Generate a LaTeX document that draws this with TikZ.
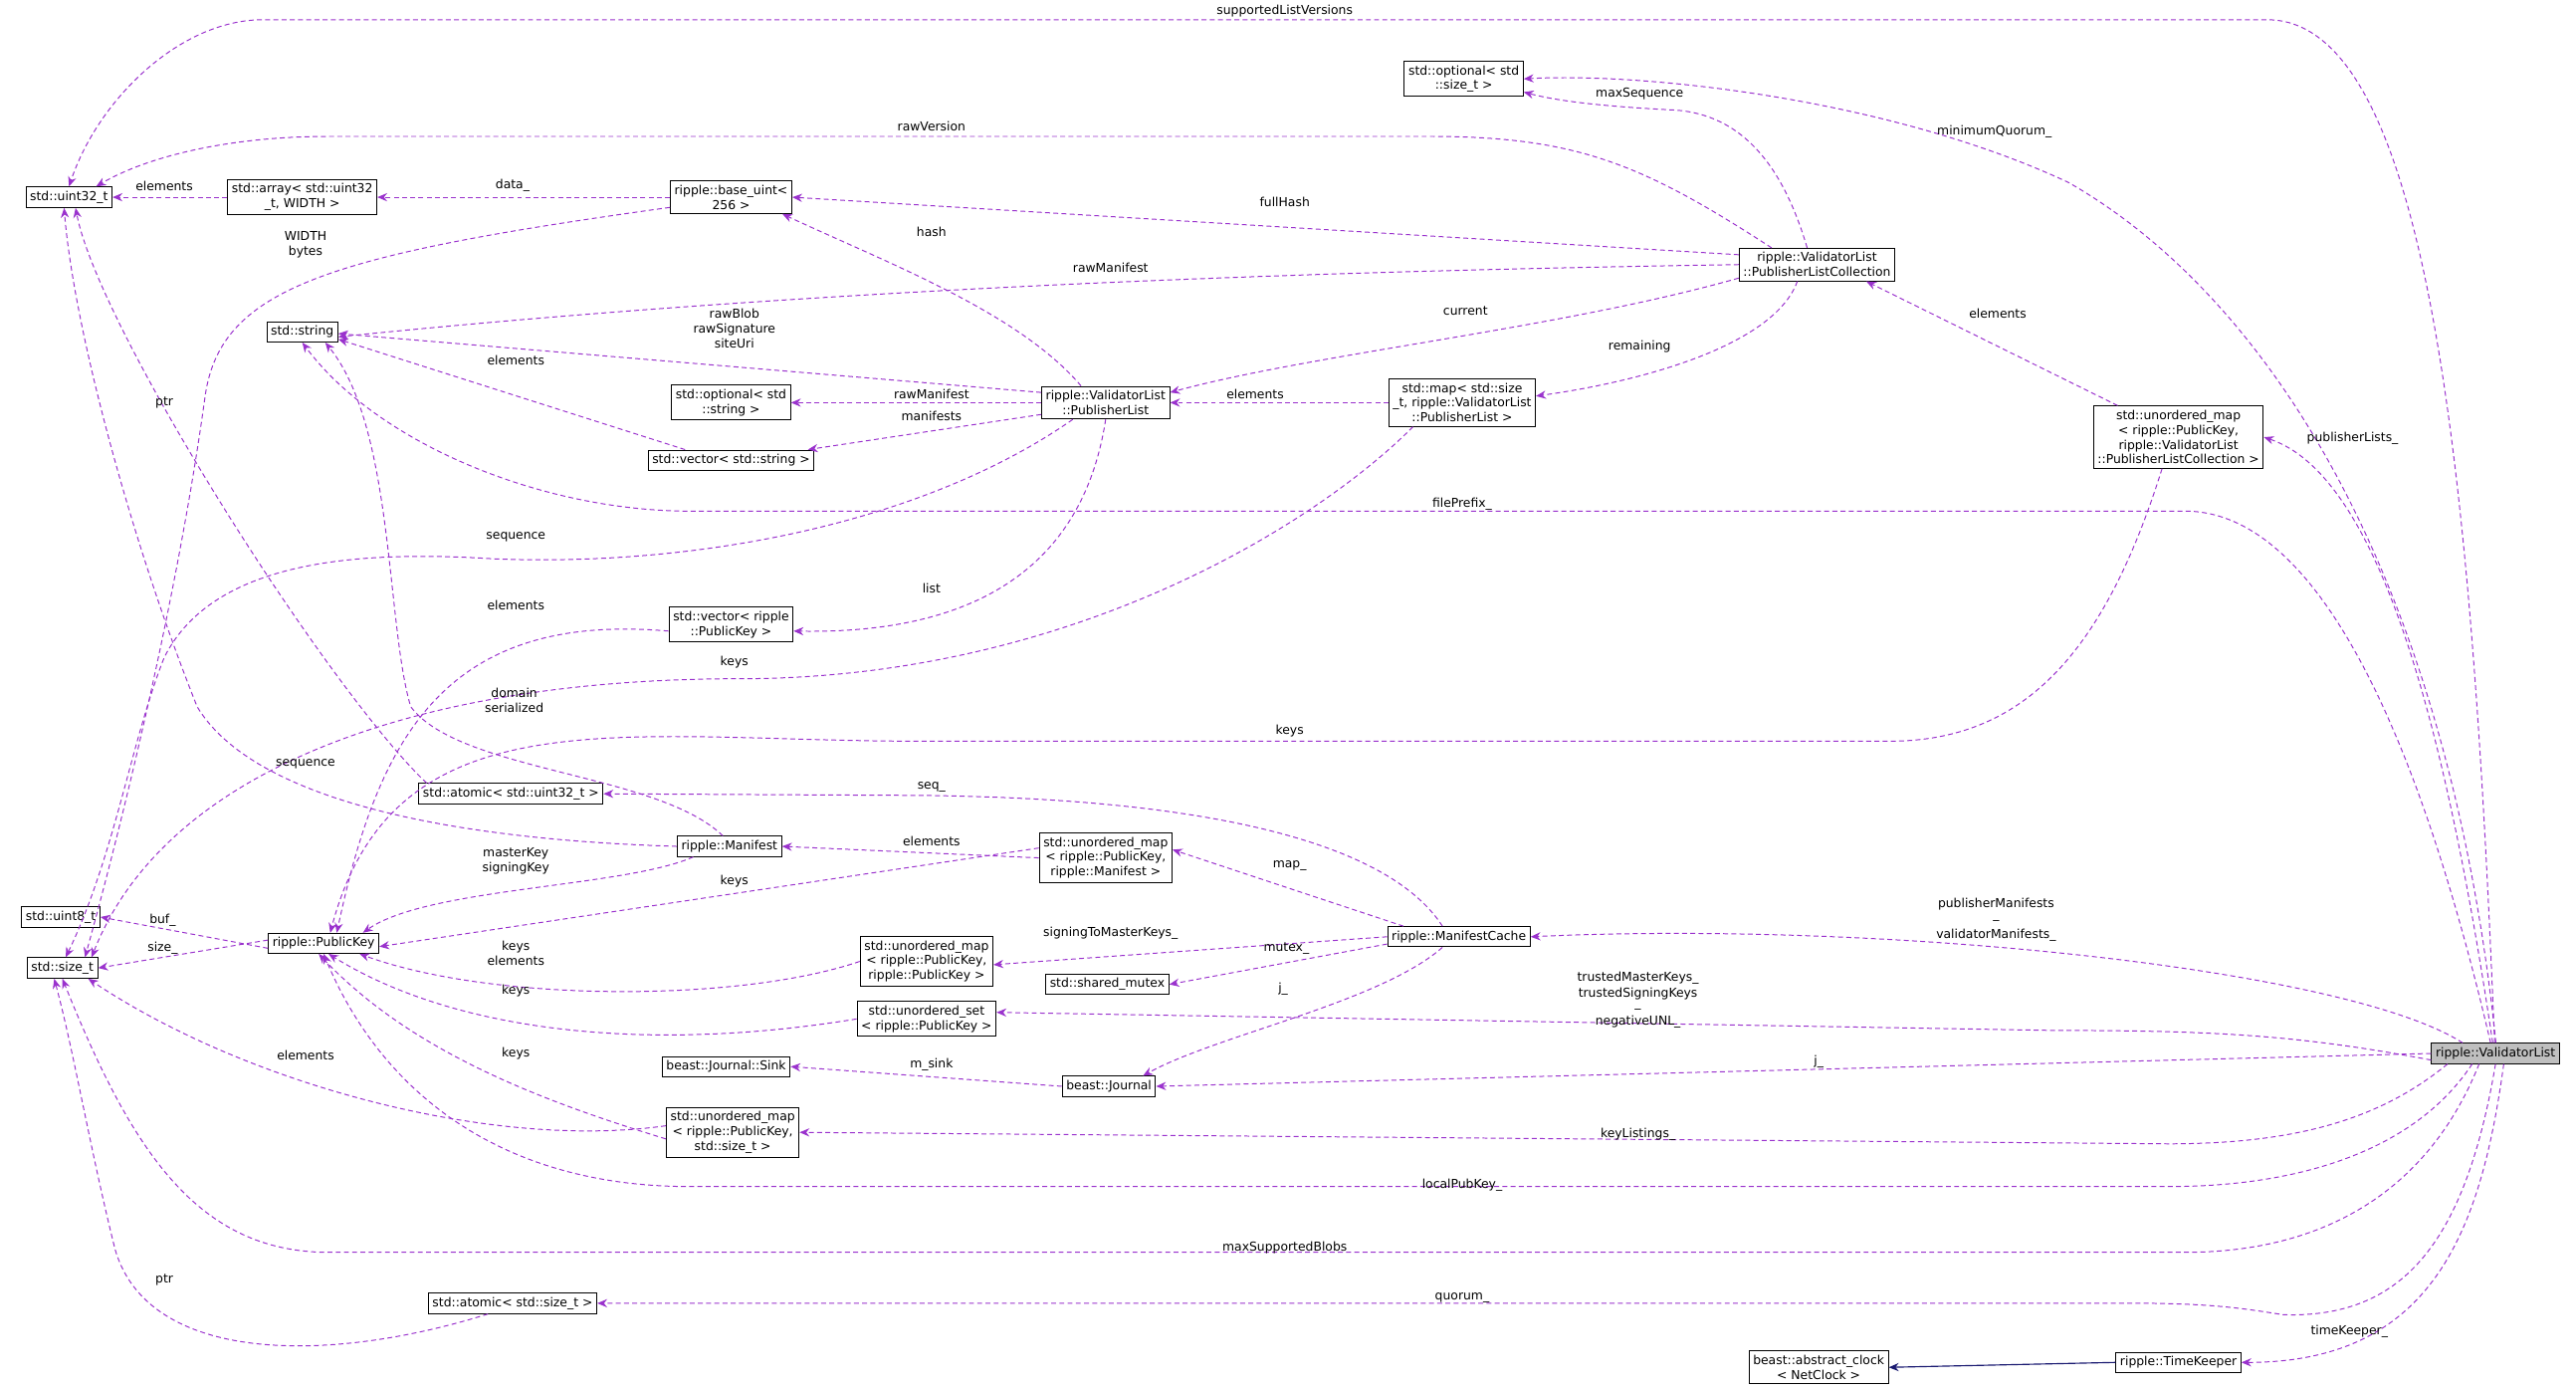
\documentclass[tikz,border=0pt]{standalone}
\usepackage{fontspec}
\setmainfont{DejaVu Sans}
\usetikzlibrary{arrows.meta}
\definecolor{ec}{RGB}{154,50,205}
\definecolor{nv}{RGB}{25,25,112}
\begin{document}
\begin{tikzpicture}[x=1pt,y=-1pt,
  box/.style={draw=black,fill=white,font=\fontsize{7.5}{9}\selectfont,align=center,inner sep=2.5pt,line width=0.6pt},
  lbl/.style={font=\fontsize{7.5}{9}\selectfont,align=center,inner sep=0pt},
  rel/.style={draw=ec,dash pattern=on 3pt off 2pt,line width=0.6pt,-{Stealth[length=6pt,width=5pt,fill=ec]}},
  inh/.style={draw=nv,line width=0.7pt,-{Stealth[length=6pt,width=5pt,fill=nv]}}]
\useasboundingbox (0,0) rectangle (1568,846);
% nodes
\node[box] (uint) at (42,120) {std::uint32\_t};
\node[box] (arr) at (184,120) {std::array< std::uint32\\\_t, WIDTH >};
\node[box] (bu) at (445,120) {ripple::base\_uint<\\256 >};
\node[box] (str) at (184,202) {std::string};
\node[box] (os) at (445,245) {std::optional< std\\::string >};
\node[box] (vs) at (445,280) {std::vector< std::string >};
\node[box] (PL) at (673,245) {ripple::ValidatorList\\::PublisherList};
\node[box] (vpk) at (445,380) {std::vector< ripple\\::PublicKey >};
\node[box] (opt) at (891,48) {std::optional< std\\::size\_t >};
\node[box] (PLC) at (1106,161) {ripple::ValidatorList\\::PublisherListCollection};
\node[box] (map) at (890,245) {std::map< std::size\\\_t, ripple::ValidatorList\\::PublisherList >};
\node[box] (upk) at (1326,266) {std::unordered\_map\\< ripple::PublicKey,\\ ripple::ValidatorList\\::PublisherListCollection >};
\node[box] (au) at (311,483) {std::atomic< std::uint32\_t >};
\node[box] (man) at (444,515) {ripple::Manifest};
\node[box] (um) at (673,522) {std::unordered\_map\\< ripple::PublicKey,\\ripple::Manifest >};
\node[box] (u8) at (37,558) {std::uint8\_t};
\node[box] (size) at (38,589) {std::size\_t};
\node[box] (PK) at (197,574) {ripple::PublicKey};
\node[box] (upp) at (564,585) {std::unordered\_map\\< ripple::PublicKey,\\ripple::PublicKey >};
\node[box] (sm) at (674,599) {std::shared\_mutex};
\node[box] (mc) at (888,570) {ripple::ManifestCache};
\node[box] (us) at (564,620) {std::unordered\_set\\< ripple::PublicKey >};
\node[box] (sink) at (442,649) {beast::Journal::Sink};
\node[box] (jr) at (675,661) {beast::Journal};
\node[box] (upsz) at (446,689) {std::unordered\_map\\< ripple::PublicKey,\\std::size\_t >};
\node[box] (aus) at (312,793) {std::atomic< std::size\_t >};
\node[box] (ac) at (1107,832) {beast::abstract\_clock\\< NetClock >};
\node[box] (tk) at (1326,829) {ripple::TimeKeeper};
\node[box,fill=black!25] (VL) at (1519,641) {ripple::ValidatorList};
% edges
\draw[rel] (VL.95) .. controls (1505,300) and (1480,12) .. (1380,12) -- (160,12) .. controls (110,12) and (60,60) .. (uint.north);
\draw[rel] ([xshift=20pt]PLC.north west) .. controls (1000,100) and (960,83) .. (870,83) -- (200,83) .. controls (140,83) and (90,95) .. ([xshift=-10pt]uint.north east);
\draw[rel] (arr.west) -- (uint.east);
\draw[rel] (bu.west) -- (arr.east);
\draw[rel] ([yshift=4pt]bu.south west) .. controls (200,155) and (135,175) .. (125,240) .. controls (110,350) and (80,480) .. ([xshift=-8pt]size.north east);
\draw[rel] (PLC.west) ++(0,-6) -- (bu.east);
\draw[rel] ([xshift=-15pt]PL.north) .. controls (620,190) and (540,160) .. ([xshift=-6pt]bu.south east);
\draw[rel] (PLC.west) .. controls (800,165) and (500,175) .. ([yshift=-3pt]str.east);
\draw[rel] ([yshift=-4pt]PL.north west) -- ([yshift=-1pt]str.east);
\draw[rel] ([xshift=-28pt]vs.north) -- ([yshift=2pt]str.south east);
\draw[rel] (PL.west) -- (os.east);
\draw[rel] ([yshift=3pt]PL.south west) -- ([xshift=-4pt]vs.north east);
\draw[rel] ([yshift=2pt]PLC.south west) .. controls (950,200) and (800,215) .. ([yshift=-4pt]PL.north east);
\draw[rel] (map.west) -- (PL.east);
\draw[rel] ([xshift=-12pt]PLC.south) .. controls (1080,210) and (1000,232) .. ([yshift=4pt]map.east);
\draw[rel] ([xshift=15pt]map.south west) .. controls (800,320) and (650,413) .. (450,413) .. controls (250,413) and (100,470) .. ([xshift=-4pt]size.north east);
\draw[rel] ([xshift=-10pt]upk.south) .. controls (1280,400) and (1230,451) .. (1150,451) -- (560,451) .. controls (380,451) and (240,420) .. ([xshift=4pt]PK.north);
\draw[rel] ([xshift=15pt]upk.north west) -- ([xshift=30pt]PLC.south);
\draw[rel] (VL.105) .. controls (1490,450) and (1450,290) .. (upk.east);
\draw[rel] (VL.88) .. controls (1490,350) and (1380,180) .. (1259,111) .. controls (1150,60) and (1000,44) .. (opt.east);
\draw[rel] ([xshift=-6pt]PLC.north) .. controls (1085,100) and (1060,70) .. (1020,67) .. controls (980,65) and (950,62) .. ([yshift=3pt]opt.south east);
\draw[rel] (VL.115) .. controls (1480,480) and (1420,311) .. (1330,311) -- (420,311) .. controls (330,311) and (230,270) .. (str.south);
\draw[rel] (PL.south) .. controls (660,340) and (600,386) .. ([yshift=-4pt]vpk.east);
\draw[rel] ([yshift=-4pt]vpk.west) .. controls (270,372) and (230,450) .. ([xshift=8pt]PK.north);
\draw[rel] ([xshift=-20pt]PL.south) .. controls (560,320) and (420,345) .. (300,340) .. controls (220,335) and (130,340) .. (100,400) .. controls (80,450) and (70,520) .. ([xshift=2pt]size.north);
\draw[rel] ([xshift=-4pt]man.north) .. controls (400,470) and (280,470) .. (250,430) .. controls (235,380) and (240,260) .. ([xshift=14pt]str.south);
\draw[rel] ([xshift=5pt]au.north west) .. controls (200,420) and (60,200) .. ([xshift=4pt]uint.south);
\draw[rel] (man.west) .. controls (250,510) and (150,480) .. (120,430) .. controls (80,330) and (45,200) .. ([xshift=-3pt]uint.south);
\draw[rel] ([xshift=10pt]man.south west) .. controls (380,540) and (260,540) .. ([xshift=-10pt]PK.north east);
\draw[rel] (um.west) -- (man.east);
\draw[rel] ([yshift=6pt]um.west) -- ([yshift=-2pt]PK.east);
\draw[rel] ([xshift=-10pt]mc.north) .. controls (850,520) and (760,486) .. (560,484) -- (au.east);
\draw[rel] ([xshift=10pt]mc.north west) -- ([yshift=5pt]um.east);
\draw[rel] (mc.west) -- ([yshift=-2pt]upp.east);
\draw[rel] ([yshift=2pt]mc.south west) -- (sm.east);
\draw[rel] ([xshift=-10pt]mc.south) .. controls (840,610) and (740,630) .. ([xshift=-8pt]jr.north east);
\draw[rel] ([yshift=-3pt]PK.west) -- (u8.east);
\draw[rel] ([yshift=2pt]PK.west) -- (size.east);
\draw[rel] (upp.west) .. controls (450,610) and (300,610) .. ([xshift=-12pt]PK.south east);
\draw[rel] (us.west) .. controls (400,640) and (280,630) .. ([xshift=3pt]PK.south);
\draw[rel] ([yshift=-4pt]upsz.west) .. controls (330,670) and (250,640) .. ([xshift=-3pt]PK.south);
\draw[rel] ([yshift=4pt]upsz.west) .. controls (300,700) and (150,660) .. ([xshift=-6pt]size.south east);
\draw[rel] ([xshift=-20pt]VL.north) .. controls (1430,590) and (1150,560) .. (mc.east);
\draw[rel] ([yshift=-4pt]VL.west) .. controls (1400,630) and (1350,627) .. (1250,627) -- ([yshift=4pt]us.east);
\draw[rel] (VL.west) -- (jr.east);
\draw[rel] ([xshift=10pt]VL.south west) .. controls (1450,680) and (1400,696) .. (1320,696) -- (upsz.east);
\draw[rel] ([xshift=25pt]VL.south west) .. controls (1470,700) and (1400,722) .. (1320,722) -- (420,722) .. controls (300,722) and (230,660) .. (PK.south);
\draw[rel] ([xshift=-10pt]VL.south) .. controls (1480,720) and (1420,762) .. (1330,762) -- (200,762) .. controls (120,762) and (80,700) .. (size.south);
\draw[rel] (VL.south) .. controls (1500,760) and (1460,802) .. (1390,800) .. controls (1370,797) and (1350,793) .. (1300,793) -- (aus.east);
\draw[rel] ([xshift=-15pt]aus.south) .. controls (200,830) and (90,830) .. (70,760) .. controls (55,700) and (45,640) .. ([xshift=-5pt]size.south);
\draw[rel] ([xshift=5pt]VL.south) .. controls (1510,750) and (1480,829) .. (tk.east);
\draw[inh] (tk.west) -- (ac.east);
\draw[rel] (jr.west) -- (sink.east);
% labels
\node[lbl] (l1) at (782,7) {supportedListVersions};
\node[lbl] (l2) at (1214,80) {minimumQuorum\_};
\node[lbl] (l3) at (998,57) {maxSequence};
\node[lbl] (l4) at (567,77) {rawVersion};
\node[lbl] (l5) at (100,113) {elements};
\node[lbl] (l6) at (312,113) {data\_};
\node[lbl] (l7) at (782,123) {fullHash};
\node[lbl] (l8) at (567,141) {hash};
\node[lbl] (l9) at (186,149) {WIDTH\\bytes};
\node[lbl] (l10) at (676,163) {rawManifest};
\node[lbl] (l11) at (447,200) {rawBlob\\rawSignature\\siteUri};
\node[lbl] (l12) at (314,219) {elements};
\node[lbl] (l13) at (567,240) {rawManifest};
\node[lbl] (l14) at (567,253) {manifests};
\node[lbl] (l15) at (764,240) {elements};
\node[lbl] (l16) at (892,189) {current};
\node[lbl] (l17) at (998,211) {remaining};
\node[lbl] (l18) at (1216,191) {elements};
\node[lbl] (l19) at (1432,267) {publisherLists\_};
\node[lbl] (l20) at (890,307) {filePrefix\_};
\node[lbl] (l21) at (100,245) {ptr};
\node[lbl] (l22) at (314,327) {sequence};
\node[lbl] (l23) at (567,358) {list};
\node[lbl] (l24) at (314,368) {elements};
\node[lbl] (l25) at (447,403) {keys};
\node[lbl] (l26) at (313,426) {domain\\serialized};
\node[lbl] (l27) at (785,445) {keys};
\node[lbl] (l28) at (186,465) {sequence};
\node[lbl] (l29) at (567,479) {seq\_};
\node[lbl] (l30) at (567,512) {elements};
\node[lbl] (l31) at (314,524) {masterKey\\signingKey};
\node[lbl] (l32) at (447,536) {keys};
\node[lbl] (l33) at (785,527) {map\_};
\node[lbl] (l34) at (99,560) {buf\_};
\node[lbl] (l35) at (99,577) {size\_};
\node[lbl] (l36) at (314,580) {keys\\elements};
\node[lbl] (l37) at (676,568) {signingToMasterKeys\_};
\node[lbl] (l38) at (783,577) {mutex\_};
\node[lbl] (l39) at (781,602) {j\_};
\node[lbl] (l40) at (314,603) {keys};
\node[lbl] (l41) at (314,641) {keys};
\node[lbl] (l42) at (186,642) {elements};
\node[lbl] (l43) at (567,648) {m\_sink};
\node[lbl] (l44) at (1215,550) {publisherManifests};
\node[lbl] (l45) at (1215,560) {\_};
\node[lbl] (l46) at (1215,569) {validatorManifests\_};
\node[lbl] (l47) at (997,595) {trustedMasterKeys\_};
\node[lbl] (l48) at (997,605) {trustedSigningKeys};
\node[lbl] (l49) at (997,614) {\_};
\node[lbl] (l50) at (997,622) {negativeUNL\_};
\node[lbl] (l51) at (1107,646) {j\_};
\node[lbl] (l52) at (997,690) {keyListings\_};
\node[lbl] (l53) at (890,721) {localPubKey\_};
\node[lbl] (l54) at (782,759) {maxSupportedBlobs};
\node[lbl] (l55) at (890,790) {quorum\_};
\node[lbl] (l56) at (100,779) {ptr};
\node[lbl] (l57) at (1430,810) {timeKeeper\_};
\end{tikzpicture}
\end{document}
